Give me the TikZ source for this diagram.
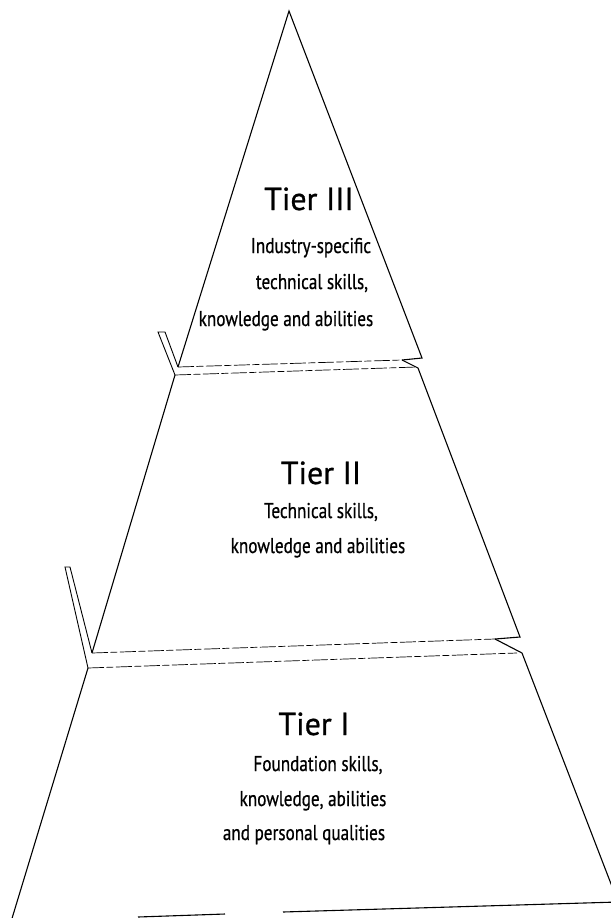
\documentclass[tikz,border=0pt]{standalone}
\usepackage{fontspec}
\setmainfont{PT Sans}
\newfontfamily\bodyfont[FakeStretch=0.8,FakeBold=0.6]{PT Sans}
\newfontfamily\headfont[FakeBold=0.8]{PT Sans}
\begin{document}
\begin{tikzpicture}[x=1bp,y=-1bp,
  edge/.style={line width=1.1bp, line join=miter},
  fold/.style={line width=0.7bp, dash pattern=on 16bp off 2.5bp on 7bp off 2.5bp},
  head/.style={anchor=base, font=\headfont\fontsize{32}{32}\selectfont},
  body/.style={anchor=base, font=\bodyfont\fontsize{21.5}{21.5}\selectfont}]
\useasboundingbox (0,0) rectangle (611,918);
\clip (0,0) rectangle (611,918);
% key points
\coordinate (apex) at (289,11);
\coordinate (t3l) at (178,367);
\coordinate (t3r) at (422,358);
\coordinate (n3) at (402,360);
\coordinate (t2tl) at (175,375);
\coordinate (t2tr) at (418,368);
\coordinate (t2tre) at (417,367);
\coordinate (b3a) at (158,332);
\coordinate (b3b) at (165,332);
\coordinate (t2bl) at (92,653);
\coordinate (t2br) at (520,637);
\coordinate (n2) at (495,639);
\coordinate (t1tl) at (88,668);
\coordinate (t1tr) at (522,653);
\coordinate (t1tre) at (517,653);
\coordinate (b2a) at (65,567);
\coordinate (b2b) at (70,567);
\coordinate (t1bl) at (10,925);
\coordinate (t1br) at (618,902);
\coordinate (g1) at (283,912);
\coordinate (g2) at (225,914);
\coordinate (g3) at (138,917);
% Tier III
\draw[edge] (t3l) -- (apex) -- (t3r) -- (n3);
\draw[fold] (t3l) -- (n3);
% upper fold bracket
\draw[edge, line width=0.9bp] (t2tl) -- (b3a) -- (b3b) -- (t3l);
% Tier II
\draw[fold] (t2tl) -- (t2tre);
\draw[edge] (n3) -- (t2tr) -- (t2br) -- (n2);
\draw[edge] (t2tl) -- (t2bl);
\draw[fold] (t2bl) -- (n2);
% lower fold bracket
\draw[edge, line width=0.9bp] (t1tl) -- (b2a) -- (b2b) -- (t2bl);
% Tier I
\draw[fold] (t1tl) -- (t1tre);
\draw[edge] (n2) -- (t1tr) -- (t1br);
\draw[edge] (t1tl) -- (t1bl);
\draw[edge] (t1br) -- (g1);
\draw[edge] (g2) -- (g3);
% texts
\node[head] (h3) at (309,210) {Tier III};
\node[body] (a3) at (311,253) {Industry-specific};
\node[body] (b3) at (312,289) {technical skills,};
\node[body] (c3) at (286,326) {knowledge and abilities};
\node[head] (h2) at (321,484) {Tier II};
\node[body] (a2) at (321,518) {Technical skills,};
\node[body] (b2) at (318,553) {knowledge and abilities};
\node[head] (h1) at (314,735) {Tier I};
\node[body] (a1) at (318,771) {Foundation skills,};
\node[body] (b1) at (313,806) {knowledge, abilities};
\node[body] (c1) at (304,840) {and personal qualities};
\end{tikzpicture}
\end{document}
